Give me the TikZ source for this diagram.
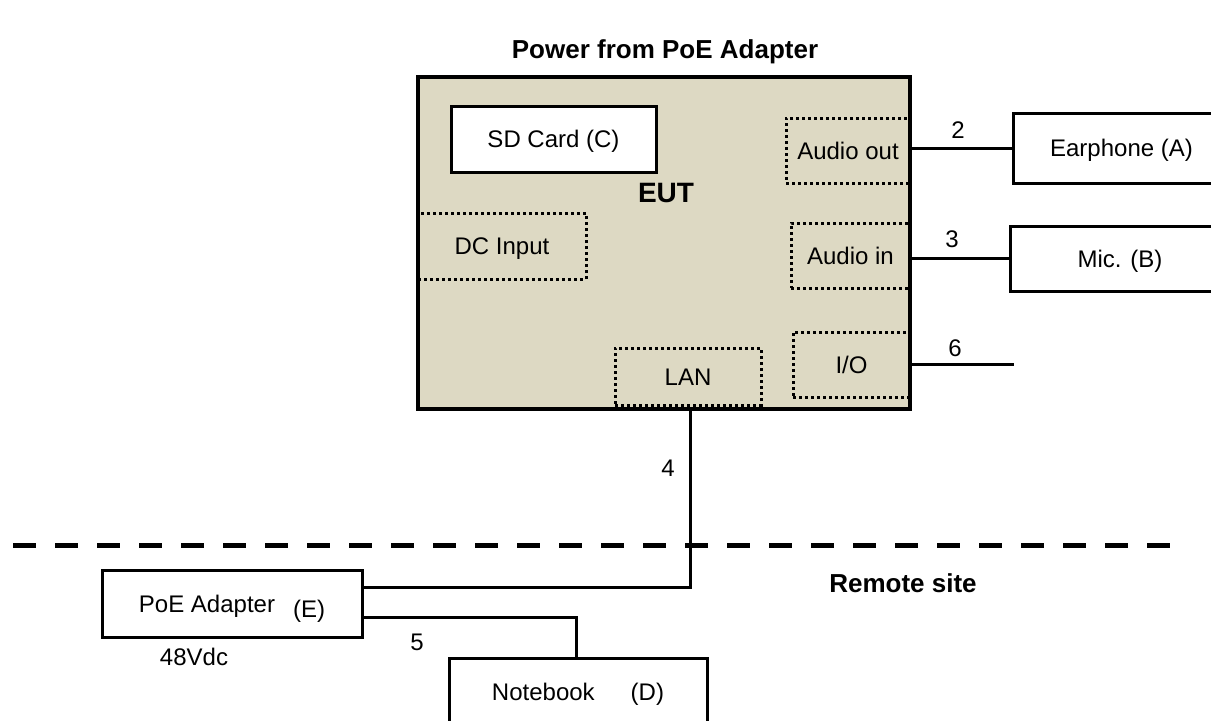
\documentclass[tikz,border=0pt]{standalone}
\usepackage{fontspec}
\setmainfont{Liberation Sans}
\definecolor{eutfill}{RGB}{221,217,195}

\begin{document}
\begin{tikzpicture}[
				x=0.5pt, y=-0.5pt,
				every node/.style={font=\fontsize{12}{14}\selectfont, inner sep=0pt, outer sep=0pt},
				box/.style={draw, rectangle, line width=1.5pt, fill=white, align=center, text height=8.6pt, text depth=0pt},
				port/.style={draw, rectangle, line width=1.5pt, dash pattern=on 1.5pt off 1.5pt, text height=8.6pt, text depth=0pt},
				wire/.style={draw, line width=1.5pt},
				title/.style={font=\fontsize{13}{15}\selectfont\bfseries}
				]
				
				\useasboundingbox (0,0) rectangle (1211,720);
				\clip (0,0) rectangle (1211,720);
				
				\node[title] (power) at (665,52) {Power from PoE Adapter};
				
				\node[draw, rectangle, line width=1.75pt, fill=eutfill, minimum width=246pt, minimum height=166pt] (eut) at (664,243) {};
				\node[font=\fontsize{14}{16}\selectfont\bfseries] (eutlbl) at (666,193) {EUT};
				\node[box, minimum width=102.5pt, minimum height=33pt] (sd) at (553.5,139) {SD Card (C)};
				\node[port, minimum width=62pt, minimum height=32.5pt] (aout) at (848,150.5) {Audio out};
				\node[port, minimum width=59.5pt, minimum height=32.5pt] (ain) at (850.5,255.5) {Audio in};
				\node[port, minimum width=84pt, minimum height=33pt] (dcin) at (502,246) {DC Input};
				\node[port, minimum width=73pt, minimum height=28.5pt] (lan) at (688,376.5) {LAN};
				\node[port, minimum width=58.5pt, minimum height=32.5pt] (io) at (851.5,364.5) {I/O};
				\draw[line width=1.75pt] (eut.north west) rectangle (eut.south east);
				
				\node[box, minimum width=108.5pt, minimum height=35pt] (ear) at (1121.5,148) {Earphone (A)};
				\node[box, minimum width=110pt, minimum height=32.5pt] (mic) at (1120,258.5) {Mic. (B)};
				\node[box, minimum width=130pt, minimum height=33.5pt] (poe) at (232,603.5) {PoE Adapter\hspace{9pt}\raisebox{-2.5pt}{(E)}};
				\node[box, minimum width=129pt, minimum height=34pt] (nb) at (578,692) {Notebook\hspace{18pt}(D)};
				
				\coordinate (ioend) at (1014,366);
				\coordinate (dashl) at (13,545);
				\coordinate (dashr) at (1170,545);
				
				\draw[wire] (ear.west -| eut.east) -- (ear.west);
				\draw[wire] (mic.west -| eut.east) -- (mic.west);
				\draw[wire] (io.east) -- (io.east -| ioend);
				\draw[wire] (eut.south -| 690,0) |- ([yshift=-8.5pt]poe.north east);
				\draw[wire] ([yshift=10pt]poe.south east) -| ([xshift=-1pt]nb.north);
				\draw[line width=2.5pt, dash pattern=on 11.5pt off 9.5pt] (dashl) -- (dashr);
				
				\node (l2) at (958,130) {2};
				\node (l3) at (952,239) {3};
				\node (l4) at (668,468) {4};
				\node (l5) at (417,642) {5};
				\node (l6) at (955,348) {6};
				\node (vdc) at (194,657) {48Vdc};
				\node[title] (remote) at (903,583) {Remote site};
				
			\end{tikzpicture}
\end{document}
